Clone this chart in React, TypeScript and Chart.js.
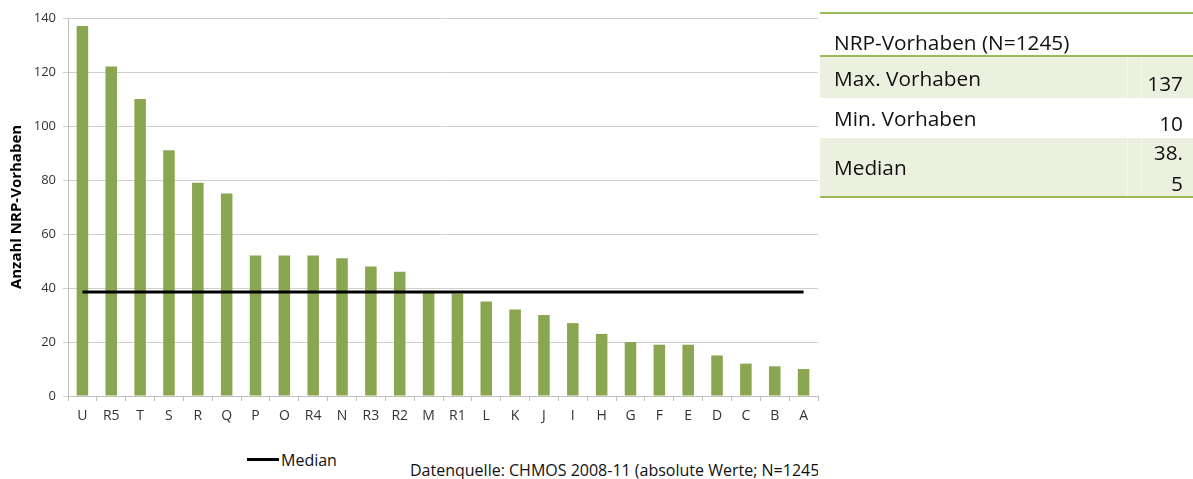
import React, { useEffect, useRef } from "react";
import { Chart, registerables } from "chart.js";

Chart.register(...registerables);

const categories = ["U", "R5", "T", "S", "R", "Q", "P", "O", "R4", "N", "R3", "R2", "M", "R1", "L", "K", "J", "I", "H", "G", "F", "E", "D", "C", "B", "A"];
const vorhaben = [137, 122, 110, 91, 79, 75, 52, 52, 52, 51, 48, 46, 39, 38, 35, 32, 30, 27, 23, 20, 19, 19, 15, 12, 11, 10];
const medianValue = 38.5;
const medianLine = categories.map(() => medianValue);
const yTickMax = 140;
const yTickStep = 20;
const tableTitle = "NRP-Vorhaben (N=1245)";
const tableLabels = ["Max. Vorhaben", "Min. Vorhaben", "Median"];
const tableValues = ["137", "10", "38.5"];
const sourceText = "Datenquelle: CHMOS 2008-11 (absolute Werte; N=1245)";

const FONT = "'Open Sans', 'Noto Sans', sans-serif";
const BAR = "#8ba650";
const GREEN_LINE = "#9bbb59";
const ROW_BG = "#ebf1de";

export default function App() {
  const ref = useRef<HTMLCanvasElement | null>(null);

  useEffect(() => {
    if (!ref.current) return;
    const chart = new Chart(ref.current, {
      type: "bar",
      data: {
        labels: categories,
        datasets: [
          {
            type: "line",
            label: "Median",
            data: medianLine,
            borderColor: "#000000",
            backgroundColor: "#000000",
            borderWidth: 3,
            pointRadius: 0,
            order: 0,
          } as any,
          {
            type: "bar",
            label: "NRP-Vorhaben",
            data: vorhaben,
            backgroundColor: BAR,
            borderWidth: 0,
            barPercentage: 0.4,
            categoryPercentage: 1,
            order: 1,
          },
        ],
      },
      options: {
        responsive: false,
        animation: false,
        layout: { padding: { left: 0, top: 18, right: 12, bottom: 0 } },
        plugins: { legend: { display: false }, tooltip: { enabled: false } },
        scales: {
          x: {
            offset: true,
            grid: { drawOnChartArea: false, drawTicks: true, tickLength: 5, color: "#bfbfbf", offset: true },
            border: { color: "#bfbfbf" },
            ticks: { font: { family: FONT, size: 14 }, color: "#333333", padding: 7, maxRotation: 0, autoSkip: false },
            afterFit: (s: any) => { s.height = 34; },
          },
          y: {
            min: 0,
            max: yTickMax,
            ticks: { stepSize: yTickStep, font: { family: FONT, size: 13 }, color: "#333333", padding: 7 },
            grid: { color: "#cfcfcf", tickLength: 5 },
            border: { color: "#bfbfbf" },
            title: {
              display: true,
              text: "Anzahl NRP-Vorhaben",
              font: { family: FONT, size: 15, weight: "bold" },
              color: "#000000",
              padding: { top: 8, bottom: 0 },
            },
            afterFit: (s: any) => { s.width = 68; },
          },
        },
      },
    });
    return () => chart.destroy();
  }, []);

  const abs = (o: React.CSSProperties): React.CSSProperties => ({ position: "absolute", ...o });
  const textStyle = (size: number): React.CSSProperties => ({ fontFamily: FONT, fontSize: size, color: "#111", whiteSpace: "nowrap" });

  return (
    <div style={abs({ left: 0, top: 0, width: 1193, height: 479, overflow: "hidden", background: "#fff" })}>
      <canvas ref={ref} width={830} height={430} style={abs({ left: 0, top: 0 })} />

      {/* legend */}
      <div style={abs({ left: 247, top: 458, width: 32, height: 3, background: "#000" })} />
      <div style={abs({ left: 281, top: 449, lineHeight: "22px", ...textStyle(16) })}>Median</div>

      {/* source */}
      <div style={abs({ left: 410, top: 459, width: 408, height: 22, overflow: "hidden", lineHeight: "22px", ...textStyle(16) })}>{sourceText}</div>

      {/* table */}
      <div style={abs({ left: 820, top: 12, width: 373, height: 2, background: GREEN_LINE })} />
      <div style={abs({ left: 834, top: 27, lineHeight: "30px", ...textStyle(20.8) })}>{tableTitle}</div>
      <div style={abs({ left: 820, top: 55, width: 373, height: 2, background: GREEN_LINE })} />

      <div style={abs({ left: 820, top: 57, width: 373, height: 41, background: ROW_BG })} />
      <div style={abs({ left: 820, top: 138, width: 373, height: 58, background: ROW_BG })} />
      <div style={abs({ left: 1127, top: 57, width: 1, height: 41, background: "#f4f8ec" })} />
      <div style={abs({ left: 1141, top: 57, width: 1, height: 41, background: "#f4f8ec" })} />
      <div style={abs({ left: 1127, top: 138, width: 1, height: 58, background: "#f4f8ec" })} />
      <div style={abs({ left: 1141, top: 138, width: 1, height: 58, background: "#f4f8ec" })} />
      <div style={abs({ left: 820, top: 196, width: 373, height: 2, background: GREEN_LINE })} />

      <div style={abs({ left: 834, top: 63, lineHeight: "30px", ...textStyle(20.8) })}>{tableLabels[0]}</div>
      <div style={abs({ left: 1100, width: 83, top: 68, lineHeight: "30px", textAlign: "right", ...textStyle(20.8) })}>{tableValues[0]}</div>

      <div style={abs({ left: 834, top: 103, lineHeight: "30px", ...textStyle(20.8) })}>{tableLabels[1]}</div>
      <div style={abs({ left: 1100, width: 83, top: 108, lineHeight: "30px", textAlign: "right", ...textStyle(20.8) })}>{tableValues[1]}</div>

      <div style={abs({ left: 834, top: 152, lineHeight: "30px", ...textStyle(20.8) })}>{tableLabels[2]}</div>
      <div style={abs({ left: 1100, width: 83, top: 137, lineHeight: "31px", textAlign: "right", ...textStyle(20.8) })}>
        {tableValues[2].slice(0, 3)}
        <br />
        {tableValues[2].slice(3)}
      </div>
    </div>
  );
}
